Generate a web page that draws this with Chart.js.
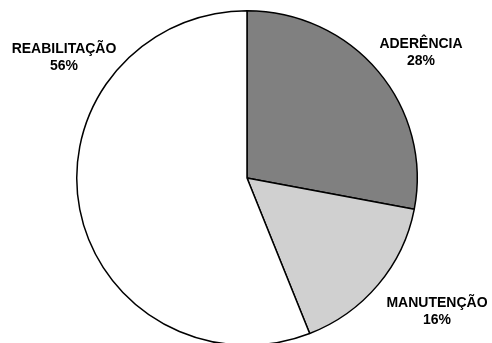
<!DOCTYPE html>
<html>
<head>
<meta charset="utf-8">
<script src="https://cdn.jsdelivr.net/npm/chart.js@4/dist/chart.umd.min.js"></script>
<style>
html,body{margin:0;padding:0;background:#fff;overflow:hidden;width:492px;height:343px;}
#wrap{position:absolute;left:0;top:0;width:492px;height:360px;}
</style>
</head>
<body>
<div id="wrap"><canvas id="c" width="492" height="360"></canvas></div>
<script>
const categories = ["ADERÊNCIA", "MANUTENÇÃO", "REABILITAÇÃO"];
const values = [28, 16, 56];
const valueLabels = ["28%", "16%", "56%"];
const colors = ["#808080", "#d0d0d0", "#ffffff"];
// label anchor positions (centre x, cap-centre y of first line)
const labelPos = [[421, 43], [437, 302], [64, 48]];
const CY = 178, SY = 168 / 171;

const squash = {
  id: 'squash',
  beforeDatasetsDraw(chart) {
    const ctx = chart.ctx;
    ctx.save();
    ctx.translate(0, CY);
    ctx.scale(1, SY);
    ctx.translate(0, -CY);
  },
  afterDatasetsDraw(chart) {
    chart.ctx.restore();
  }
};

const labelPlugin = {
  id: 'labels',
  afterDraw(chart) {
    const ctx = chart.ctx;
    ctx.save();
    ctx.fillStyle = '#000';
    ctx.font = 'bold 14px "Liberation Sans", Arial, sans-serif';
    ctx.textAlign = 'center';
    ctx.textBaseline = 'alphabetic';
    categories.forEach((c, i) => {
      const [x, y] = labelPos[i];
      ctx.fillText(c, x, y + 5);
      ctx.fillText(valueLabels[i], x, y + 22);
    });
    ctx.restore();
  }
};

new Chart(document.getElementById('c'), {
  type: 'pie',
  data: {
    labels: categories,
    datasets: [{
      data: values,
      backgroundColor: colors,
      borderColor: '#000',
      borderWidth: 1.5
    }]
  },
  options: {
    responsive: false,
    animation: false,
    layout: { padding: { top: 7, bottom: 11, left: 2, right: 0 } },
    plugins: { legend: { display: false }, tooltip: { enabled: false } }
  },
  plugins: [squash, labelPlugin]
});
</script>
</body>
</html>
